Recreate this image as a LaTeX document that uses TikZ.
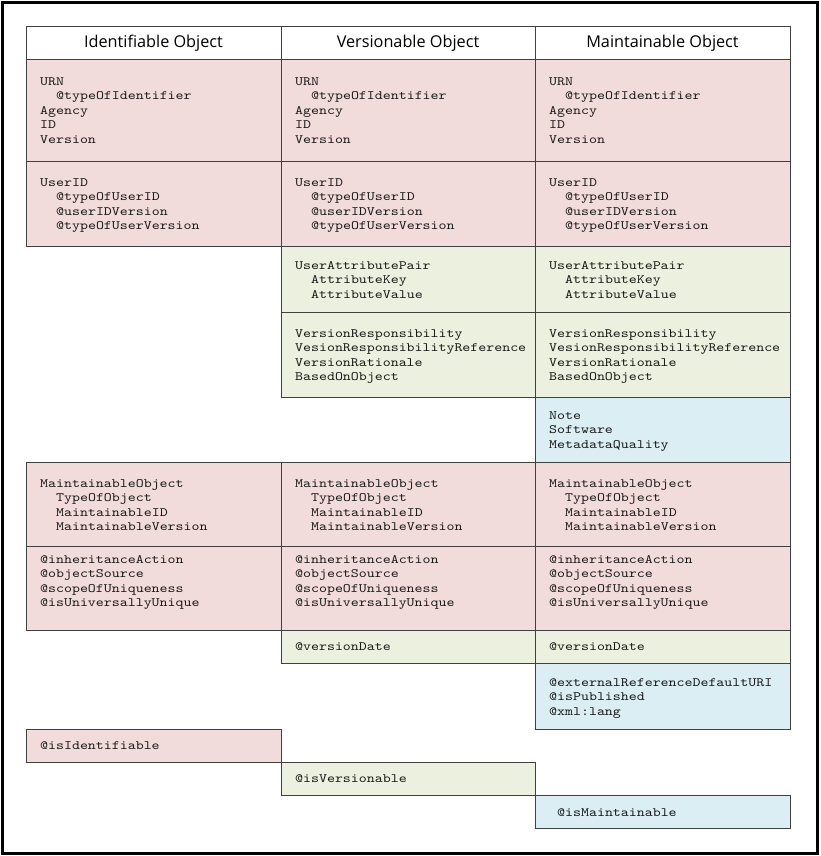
\documentclass[tikz,border=0pt]{standalone}
\usepackage{fontspec}
\setmonofont[FakeStretch=1.19]{lmmono10-regular.otf}
\newfontfamily\headfont{Open Sans}
\definecolor{pinkc}{HTML}{F2DCDB}
\definecolor{greenc}{HTML}{EBF1DE}
\definecolor{bluec}{HTML}{DAEEF3}
\definecolor{linec}{HTML}{404040}
\newcommand\mkcell[8]{%
  \node[cellbox, fill=#6, minimum width=#4pt, minimum height=#5pt, anchor=north west] (#1) at (#2,#3) {};
  \node[celltext] (#1t) at (#2+14,#3+#7-11) {\rule{0pt}{11pt}#8};
}
\newcommand\ind{\hspace*{16pt}}
\tikzset{
  x=1pt, y=-1pt,
  cellbox/.style={draw=linec, line width=1.2pt, inner sep=0pt, rectangle},
  celltext/.style={anchor=north west, inner sep=0pt, align=left, text=black!90,
    font=\ttfamily\fontsize{12.75}{14.5}\selectfont},
  head/.style={anchor=base, inner sep=0pt, font=\headfont\fontsize{16.25}{19}\selectfont}
}
\begin{document}
\begin{tikzpicture}
\useasboundingbox (0,0) rectangle (820,856);
\fill[white] (0,0) rectangle (820,856);
% headers
\node[cellbox, fill=white, minimum width=255pt, minimum height=33pt, anchor=north west] (hb1) at (26,26) {};
\node[cellbox, fill=white, minimum width=254pt, minimum height=33pt, anchor=north west] (hb2) at (281,26) {};
\node[cellbox, fill=white, minimum width=255pt, minimum height=33pt, anchor=north west] (hb3) at (535,26) {};
\node[head] (h1) at (153.5,47.5) {Identifiable Object};
\node[head] (h2) at (408,47.5) {Versionable Object};
\node[head] (h3) at (662.5,47.5) {Maintainable Object};
% row A
\mkcell{a1}{26}{59}{255}{102}{pinkc}{26}{URN\\\ind@typeOfIdentifier\\Agency\\ID\\Version}
\mkcell{a2}{281}{59}{254}{102}{pinkc}{26}{URN\\\ind@typeOfIdentifier\\Agency\\ID\\Version}
\mkcell{a3}{535}{59}{255}{102}{pinkc}{26}{URN\\\ind@typeOfIdentifier\\Agency\\ID\\Version}
% row B
\mkcell{b1}{26}{161}{255}{85}{pinkc}{25}{UserID\\\ind@typeOfUserID\\\ind@userIDVersion\\\ind@typeOfUserVersion}
\mkcell{b2}{281}{161}{254}{85}{pinkc}{25}{UserID\\\ind@typeOfUserID\\\ind@userIDVersion\\\ind@typeOfUserVersion}
\mkcell{b3}{535}{161}{255}{85}{pinkc}{25}{UserID\\\ind@typeOfUserID\\\ind@userIDVersion\\\ind@typeOfUserVersion}
% row C
\mkcell{c2}{281}{246}{254}{66}{greenc}{23}{UserAttributePair\\\ind AttributeKey\\\ind AttributeValue}
\mkcell{c3}{535}{246}{255}{66}{greenc}{23}{UserAttributePair\\\ind AttributeKey\\\ind AttributeValue}
% row D
\mkcell{d2}{281}{312}{254}{85}{greenc}{25}{VersionResponsibility\\VesionResponsibilityReference\\VersionRationale\\BasedOnObject}
\mkcell{d3}{535}{312}{255}{85}{greenc}{25}{VersionResponsibility\\VesionResponsibilityReference\\VersionRationale\\BasedOnObject}
% row E
\mkcell{e3}{535}{397}{255}{65}{bluec}{22}{Note\\Software\\MetadataQuality}
% row F
\mkcell{f1}{26}{462}{255}{84}{pinkc}{25}{MaintainableObject\\\ind TypeOfObject\\\ind MaintainableID\\\ind MaintainableVersion}
\mkcell{f2}{281}{462}{254}{84}{pinkc}{25}{MaintainableObject\\\ind TypeOfObject\\\ind MaintainableID\\\ind MaintainableVersion}
\mkcell{f3}{535}{462}{255}{84}{pinkc}{25}{MaintainableObject\\\ind TypeOfObject\\\ind MaintainableID\\\ind MaintainableVersion}
% row G
\mkcell{g1}{26}{546}{255}{84}{pinkc}{17}{@inheritanceAction\\@objectSource\\@scopeOfUniqueness\\@isUniversallyUnique}
\mkcell{g2}{281}{546}{254}{84}{pinkc}{17}{@inheritanceAction\\@objectSource\\@scopeOfUniqueness\\@isUniversallyUnique}
\mkcell{g3}{535}{546}{255}{84}{pinkc}{17}{@inheritanceAction\\@objectSource\\@scopeOfUniqueness\\@isUniversallyUnique}
% row H
\mkcell{h2c}{281}{630}{254}{33}{greenc}{20}{@versionDate}
\mkcell{h3c}{535}{630}{255}{33}{greenc}{20}{@versionDate}
% row I
\mkcell{i3}{535}{663}{255}{66}{bluec}{23}{@externalReferenceDefaultURI\\@isPublished\\@xml:lang}
% rows J K L
\mkcell{j1}{26}{729}{255}{33}{pinkc}{20}{@isIdentifiable}
\mkcell{k2}{281}{762}{254}{33}{greenc}{20}{@isVersionable}
\mkcell{l3}{535}{795}{255}{33}{bluec}{21}{\hspace*{8pt}@isMaintainable}
% frame
\draw[line width=3pt, black] (2.5,2.5) rectangle (817,853.5);
\end{tikzpicture}
\end{document}
